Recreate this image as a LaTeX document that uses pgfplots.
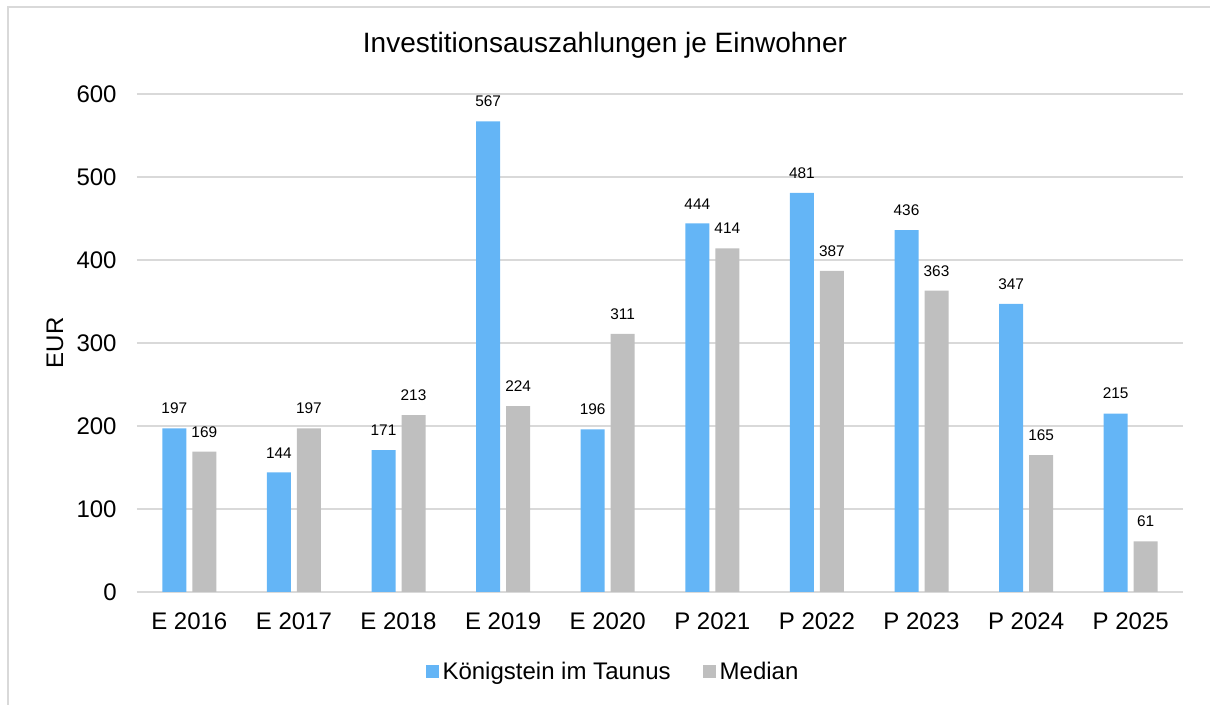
\documentclass[border=0pt]{standalone}
\usepackage{pgfplots}
\pgfplotsset{compat=1.18}
\usepackage{fontspec}
\setmainfont{Liberation Sans}
\definecolor{kblue}{HTML}{64B5F6}
\definecolor{mgray}{HTML}{BFBFBF}
\definecolor{gridgray}{HTML}{D9D9D9}
\begin{document}
\begin{tikzpicture}
\useasboundingbox (0,0) rectangle (605pt,352.5pt);
\draw[draw=gridgray, line width=0.75pt] (4pt,0) -- (4pt,349pt) -- (605pt,349pt);
\node[anchor=base, inner sep=0pt, font=\fontsize{14}{16}\selectfont] at (302.5pt,326pt) {Investitionsauszahlungen je Einwohner};
\begin{axis}[
  at={(68.5pt,56.5pt)}, anchor=south west,
  width=523pt, height=249pt, scale only axis,
  ybar=3pt, bar width=12pt,
  xmin=-0.5, xmax=9.5, ymin=0, ymax=600,
  xtick={0,...,9},
  xticklabels={E 2016,E 2017,E 2018,E 2019,E 2020,P 2021,P 2022,P 2023,P 2024,P 2025},
  ytick={0,100,...,600},
  ymajorgrids, grid style={draw=gridgray, line width=0.75pt},
  axis line style={draw=none},
  major tick length=0pt,
  /pgf/number format/assume math mode=true,
  tick label style={font=\fontsize{12}{14}\selectfont, inner sep=0pt},
  yticklabel style={anchor=east, xshift=-10pt},
  xticklabel style={anchor=north, yshift=-10pt},
  ylabel={EUR},
  every axis y label/.style={at={(axis description cs:0,0.5)}, anchor=center, xshift=-41pt, rotate=90, font=\fontsize{12}{14}\selectfont},
  nodes near coords,
  every node near coord/.append style={font=\fontsize{7.7}{9}\selectfont, text=black, anchor=south, inner sep=0pt, yshift=7pt},
  clip=false,
  legend columns=2,
  legend style={at={(axis description cs:0.456,-0.1606)}, anchor=center, draw=none, font=\fontsize{12}{14}\selectfont, inner sep=0pt,
    /tikz/every even column/.append style={column sep=14pt}},
  legend image code/.code={\fill[#1] (0pt,-3.25pt) rectangle (6.5pt,3.25pt);},
]
\addplot[fill=kblue, draw=none] coordinates {(0,197) (1,144) (2,171) (3,567) (4,196) (5,444) (6,481) (7,436) (8,347) (9,215)};
\addplot[fill=mgray, draw=none] coordinates {(0,169) (1,197) (2,213) (3,224) (4,311) (5,414) (6,387) (7,363) (8,165) (9,61)};
\legend{Königstein im Taunus, Median}
\end{axis}
\end{tikzpicture}
\end{document}
